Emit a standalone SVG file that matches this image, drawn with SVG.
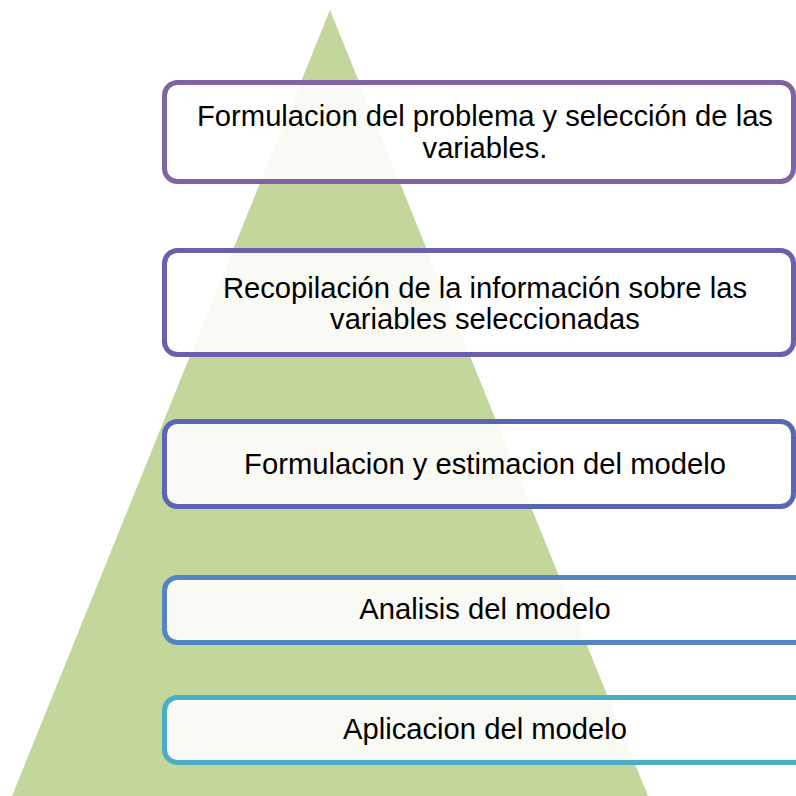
<svg xmlns="http://www.w3.org/2000/svg" width="796" height="796" viewBox="0 0 796 796">
<style>
.box{fill:#ffffff;fill-opacity:0.88;stroke-width:5}
.t{font-family:"Liberation Sans",Arial,sans-serif;font-size:29.2px;fill:#000;text-anchor:middle}
</style>
<rect width="796" height="796" fill="#ffffff"/>
<polygon id="pyramid" points="330,10 12,796 648,796" fill="#C3D69B"/>
<g id="connectors"></g>
<g id="n1">
<rect class="box" x="164.5" y="82.5" width="629" height="99" rx="13" stroke="#8064A2"/>
<text class="t" x="485" y="125.5">Formulacion del problema y selección de las</text>
<text class="t" x="485" y="157.5">variables.</text>
</g>
<g id="n2">
<rect class="box" x="164.5" y="250.5" width="629" height="104" rx="13" stroke="#6C5FAC"/>
<text class="t" x="485" y="297.5">Recopilación de la información sobre las</text>
<text class="t" x="485" y="329">variables seleccionadas</text>
</g>
<g id="n3">
<rect class="box" x="164.5" y="421.5" width="629" height="85" rx="13" stroke="#5A66B4"/>
<text class="t" x="485" y="473.5">Formulacion y estimacion del modelo</text>
</g>
<g id="n4">
<rect class="box" x="164.5" y="577.5" width="660" height="65" rx="13" stroke="#5286C2"/>
<text class="t" x="485" y="619">Analisis del modelo</text>
</g>
<g id="n5">
<rect class="box" x="164.5" y="697.5" width="660" height="65" rx="13" stroke="#4BACC6"/>
<text class="t" x="485" y="739">Aplicacion del modelo</text>
</g>
</svg>
